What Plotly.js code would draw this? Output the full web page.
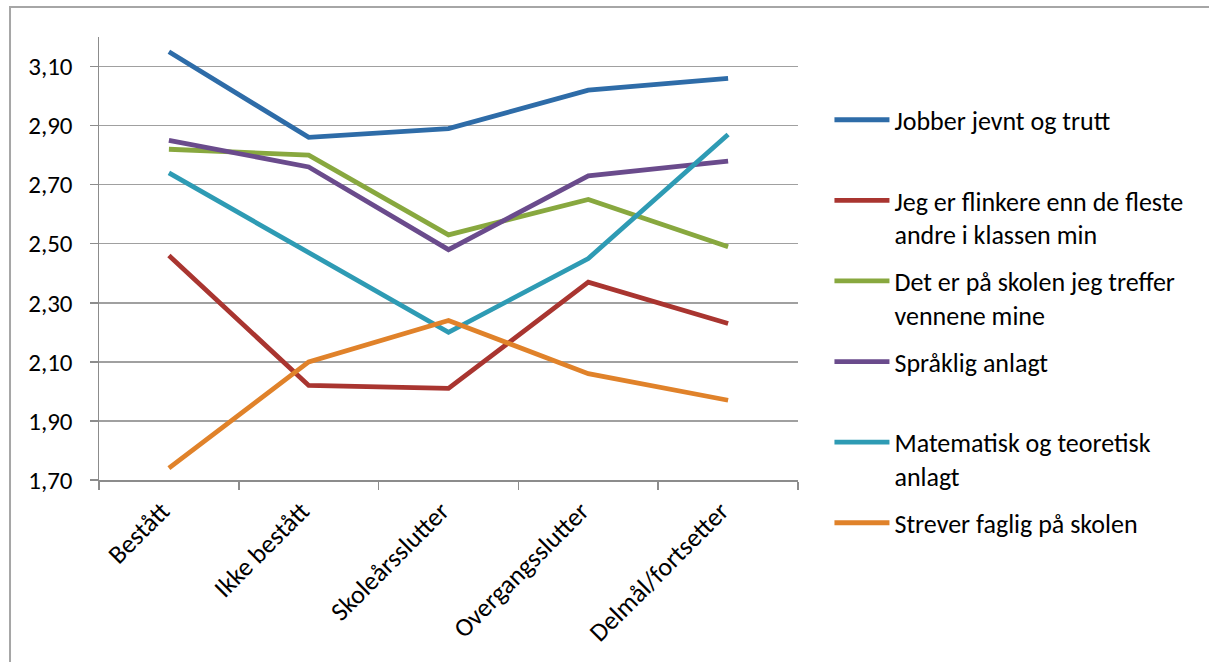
<!DOCTYPE html>
<html>
<head>
<meta charset="utf-8">
<script src="https://cdn.plot.ly/plotly-3.0.1.min.js"></script>
<style>
  html, body { margin: 0; padding: 0; background: #ffffff; }
  #chart { width: 1209px; height: 662px; }
</style>
</head>
<body>
<div id="chart"></div>
<script>
// Categories along the x axis
const categories = ['Bestått', 'Ikke bestått', 'Skoleårsslutter', 'Overgangsslutter', 'Delmål/fortsetter'];

// Series names (legend); every entry takes two text lines so the entries are evenly spaced
const seriesNames = [
  'Jobber jevnt og trutt<br> ',
  'Jeg er flinkere enn de fleste<br>andre i klassen min',
  'Det er på skolen jeg treffer<br>vennene mine',
  'Språklig anlagt<br> ',
  'Matematisk og teoretisk<br>anlagt',
  'Strever faglig på skolen<br> '
];

// Mean scores per category
const jobberJevnt      = [3.15, 2.86, 2.89, 3.02, 3.06];
const flinkereEnnAndre = [2.46, 2.02, 2.01, 2.37, 2.23];
const trefferVenner    = [2.82, 2.80, 2.53, 2.65, 2.49];
const spraakligAnlagt  = [2.85, 2.76, 2.48, 2.73, 2.78];
const matematiskAnlagt = [2.74, 2.47, 2.20, 2.45, 2.87];
const streverFaglig    = [1.74, 2.10, 2.24, 2.06, 1.97];

// Y axis tick values
const yTicks = [1.70, 1.90, 2.10, 2.30, 2.50, 2.70, 2.90, 3.10];

const seriesValues = [jobberJevnt, flinkereEnnAndre, trefferVenner, spraakligAnlagt, matematiskAnlagt, streverFaglig];
const seriesColors = ['#2E6CA8', '#A93530', '#88A83F', '#6A4B8C', '#2E9BB4', '#E0822A'];

const FONT = 'Carlito, Lato, "Liberation Sans", sans-serif';

const traces = seriesValues.map((vals, i) => ({
  type: 'scatter',
  mode: 'lines',
  x: categories,
  y: vals,
  name: seriesNames[i],
  legendgroup: 'g' + i,
  line: { color: seriesColors[i], width: 4.8 },
  hoverinfo: 'x+y'
}));

const layout = {
  width: 1209,
  height: 662,
  paper_bgcolor: '#ffffff',
  plot_bgcolor: '#ffffff',
  margin: { l: 99, r: 411, t: 37, b: 182 },
  separators: ', ',
  font: { family: FONT, size: 24, color: '#000000' },
  showlegend: true,
  legend: {
    x: 1.045,
    xanchor: 'left',
    y: 0.866,
    yanchor: 'top',
    valign: 'top',
    itemwidth: 55,
    tracegroupgap: 10,
    font: { family: FONT, size: 26, color: '#000000' },
    bgcolor: 'rgba(0,0,0,0)'
  },
  xaxis: {
    type: 'category',
    range: [-0.5, 4.5],
    tickson: 'boundaries',
    ticks: 'outside',
    ticklen: 8,
    tickcolor: '#8C8C8C',
    tickwidth: 1.5,
    tickangle: -45,
    ticklabelshift: -7,
    ticklabelstandoff: 4,
    showgrid: false,
    showline: true,
    linecolor: '#8C8C8C',
    linewidth: 1.5,
    zeroline: false,
    fixedrange: true,
    tickfont: { family: FONT, size: 26, color: '#000000' }
  },
  yaxis: {
    range: [1.7, 3.2],
    tickvals: yTicks,
    tickformat: '.2f',
    ticks: 'outside',
    ticklen: 8,
    tickcolor: '#8C8C8C',
    tickwidth: 1.5,
    showgrid: true,
    gridcolor: '#A0A0A0',
    gridwidth: 1.5,
    showline: true,
    linecolor: '#8C8C8C',
    linewidth: 1.5,
    zeroline: false,
    fixedrange: true,
    ticklabelstandoff: 12,
    tickfont: { family: FONT, size: 25, color: '#000000' }
  },
  shapes: [{
    // outer chart frame
    type: 'rect',
    xref: 'paper', yref: 'paper',
    x0: -0.1273, x1: 1.62,
    y0: -0.45, y1: 1.0677,
    line: { color: '#A6A6A6', width: 2 },
    fillcolor: 'rgba(0,0,0,0)',
    layer: 'below'
  }]
};

Plotly.newPlot('chart', traces, layout, { displayModeBar: false, staticPlot: true });
</script>
</body>
</html>
